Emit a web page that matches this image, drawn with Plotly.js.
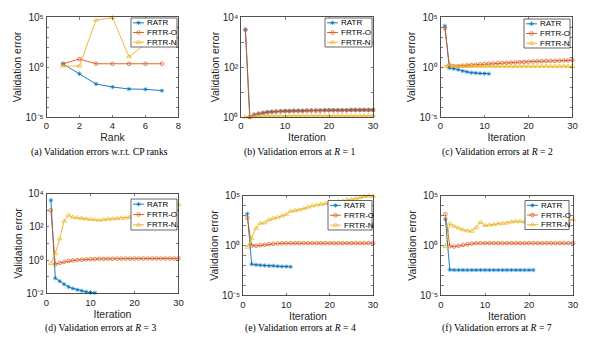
<!DOCTYPE html>
<html>
<head>
<meta charset="utf-8">
<script src="https://cdn.plot.ly/plotly-3.0.1.min.js"></script>
<style>html,body{margin:0;padding:0;background:#fff;}#chart{width:600px;height:353px;}</style>
</head>
<body>
<div id="chart"></div>
<script>
// ---------------- DATA ----------------
const seriesNames = ['RATR', 'FRTR-O', 'FRTR-N'];
const rankA = [1, 2, 3, 4, 5, 6, 7];
const iter30 = [1,2,3,4,5,6,7,8,9,10,11,12,13,14,15,16,17,18,19,20,21,22,23,24,25,26,27,28,29,30];
const iter11 = [1,2,3,4,5,6,7,8,9,10,11];
const iter21 = [1,2,3,4,5,6,7,8,9,10,11,12,13,14,15,16,17,18,19,20,21];

// (a) validation error vs rank
const a_ratr  = [2.0, 0.21, 0.02, 0.01, 0.0063, 0.0059, 0.0043];
const a_frtro = [2.1, 6.3, 2.1, 2.1, 2.1, 2.1, 2.1];
const a_frtrn = [1.25, 1.25, 50000, 85000, 10.7, 200, 400];

// (b) R = 1
const b_ratr  = [3090, 1.0, 1.23, 1.35, 1.45, 1.55, 1.62, 1.66, 1.70, 1.74, 1.74, 1.78, 1.78, 1.78, 1.82, 1.82, 1.82, 1.82, 1.86, 1.86, 1.86, 1.86, 1.86, 1.86, 1.91, 1.91, 1.91, 1.91, 1.91, 1.91];
const b_frtro = [3090, 1.0, 1.23, 1.35, 1.45, 1.55, 1.62, 1.66, 1.70, 1.74, 1.74, 1.78, 1.78, 1.78, 1.82, 1.82, 1.82, 1.82, 1.86, 1.86, 1.86, 1.86, 1.86, 1.86, 1.91, 1.91, 1.91, 1.91, 1.91, 1.91];
const b_frtrn = [1.0, 1.03, 1.08, 1.1, 1.12, 1.12, 1.12, 1.12, 1.12, 1.12, 1.12, 1.12, 1.12, 1.12, 1.12, 1.12, 1.12, 1.12, 1.12, 1.12, 1.12, 1.12, 1.12, 1.12, 1.12, 1.12, 1.12, 1.12, 1.12, 1.12];

// (c) R = 2
const c_ratr  = [12600, 0.79, 0.68, 0.54, 0.40, 0.32, 0.27, 0.25, 0.23, 0.22, 0.21];
const c_frtro = [7940, 1.58, 1.26, 1.26, 1.35, 1.45, 1.58, 1.70, 1.86, 2.0, 2.14, 2.29, 2.45, 2.57, 2.69, 2.82, 2.95, 3.09, 3.24, 3.39, 3.55, 3.72, 3.80, 3.98, 4.07, 4.17, 4.27, 4.37, 4.57, 4.68];
const c_frtrn = [1.08, 1.7, 1.2, 1.2, 1.2, 1.2, 1.2, 1.2, 1.2, 1.2, 1.2, 1.2, 1.2, 1.2, 1.2, 1.2, 1.2, 1.2, 1.2, 1.2, 1.2, 1.2, 1.2, 1.2, 1.2, 1.2, 1.2, 1.2, 1.2, 1.2];

// (d) R = 3
const d_ratr  = [3980, 0.083, 0.055, 0.036, 0.025, 0.020, 0.0166, 0.0145, 0.0126, 0.0115, 0.011];
const d_frtro = [1000, 0.56, 0.69, 0.79, 0.89, 0.95, 1.02, 1.07, 1.12, 1.15, 1.17, 1.2, 1.2, 1.22, 1.22, 1.23, 1.23, 1.24, 1.24, 1.25, 1.25, 1.25, 1.25, 1.26, 1.26, 1.26, 1.26, 1.26, 1.27, 1.27];
const d_frtrn = [0.63, 2.5, 19, 220, 500, 380, 350, 330, 300, 290, 275, 250, 275, 290, 300, 316, 330, 350, 380, 417, 457, 500, 562, 631, 708, 794, 1000, 1260, 1580, 2190];

// (e) R = 4
const e_ratr  = [1480, 0.0135, 0.0117, 0.0107, 0.01, 0.0093, 0.0093, 0.0085, 0.0079, 0.0079, 0.0074];
const e_frtro = [590, 1.0, 0.93, 1.07, 1.17, 1.35, 1.48, 1.58, 1.66, 1.7, 1.7, 1.7, 1.7, 1.7, 1.7, 1.7, 1.7, 1.7, 1.7, 1.7, 1.7, 1.7, 1.7, 1.7, 1.7, 1.7, 1.7, 1.7, 1.7, 1.7];
const e_frtrn = [0.68, 5.4, 54, 170, 186, 370, 540, 680, 930, 1260, 2700, 3160, 3700, 5000, 6800, 9300, 11700, 13500, 15800, 17800, 20000, 25100, 28200, 35500, 39800, 50100, 63100, 79400, 89100, 85100];

// (f) R = 7
const f_ratr  = [430, 0.0037, 0.0035, 0.0035, 0.0035, 0.0035, 0.0035, 0.0035, 0.0035, 0.0035, 0.0035, 0.0035, 0.0035, 0.0035, 0.0035, 0.0035, 0.0035, 0.0035, 0.0035, 0.0035, 0.0035];
const f_frtro = [1350, 0.85, 0.79, 0.93, 1.17, 1.35, 1.58, 1.7, 1.7, 1.7, 1.7, 1.7, 1.7, 1.7, 1.7, 1.7, 1.7, 1.7, 1.7, 1.7, 1.7, 1.7, 1.7, 1.7, 1.7, 1.7, 1.7, 1.7, 1.7, 1.7];
const f_frtrn = [0.79, 148, 85, 54, 37, 30, 27, 63, 214, 100, 117, 126, 148, 158, 186, 234, 269, 269, 234, 186, 200, 224, 251, 282, 316, 316, 355, 355, 380, 398];

const captions = [
  '(a) Validation errors w.r.t. CP ranks',
  '(b) Validation errors at <i>R</i> = 1',
  '(c) Validation errors at <i>R</i> = 2',
  '(d) Validation errors at <i>R</i> = 3',
  '(e) Validation errors at <i>R</i> = 4',
  '(f) Validation errors at <i>R</i> = 7'
];
const xTitles = ['Rank', 'Iteration', 'Iteration', 'Iteration', 'Iteration', 'Iteration'];
const yTitle = 'Validation error';
// decade tick labels (10^k), per exponent
const decadeLabels = {'-5': '10\u207B\u2075', '-2': '10\u207B\u00B2', '0': '10\u2070', '2': '10\u00B2', '4': '10\u2074', '5': '10\u2075'};

const panelData = [
  {x: [rankA, rankA, rankA], y: [a_ratr, a_frtro, a_frtrn]},
  {x: [iter30, iter30, iter30], y: [b_ratr, b_frtro, b_frtrn]},
  {x: [iter11, iter30, iter30], y: [c_ratr, c_frtro, c_frtrn]},
  {x: [iter11, iter30, iter30], y: [d_ratr, d_frtro, d_frtrn]},
  {x: [iter11, iter30, iter30], y: [e_ratr, e_frtro, e_frtrn]},
  {x: [iter21, iter30, iter30], y: [f_ratr, f_frtro, f_frtrn]}
];

// ---------------- LAYOUT / STYLE ----------------
const W = 600, H = 353;
const BLUE = '#0072BD', ORANGE = '#D95319', YELLOW = '#EDB120';
const colors = [BLUE, ORANGE, YELLOW];
const symbols = ['asterisk-open', 'circle-open', 'triangle-up-open'];
const msizes = [3.6, 3.6, 4.4];
const AX = '#262626';
const sans = 'Liberation Sans, Arial, Helvetica, sans-serif';
const serif = 'Liberation Serif, Times New Roman, serif';

// plot boxes in pixels
const boxes = [
  {x0: 46.5, x1: 178.5, y0: 17, y1: 117},
  {x0: 241, x1: 373, y0: 17, y1: 117},
  {x0: 440.5, x1: 572.5, y0: 17, y1: 117},
  {x0: 46.5, x1: 178.5, y0: 193.5, y1: 293.5},
  {x0: 243, x1: 373, y0: 195.5, y1: 295.5},
  {x0: 441, x1: 573, y0: 195.5, y1: 295.5}
];
// legend boxes in pixels [left, top, width, height]
const legBoxes = [
  [131, 18, 46, 29],
  [325, 18, 47, 29],
  [524, 19, 46, 29],
  [131, 199, 46, 31],
  [328, 200.5, 44, 29.5],
  [525, 200.5, 44, 29]
];
const xRanges = [[0, 8], [0, 30], [0, 30], [0, 30], [0, 30], [0, 30]];
const xTicks = [[0, 2, 4, 6, 8], [0, 10, 20, 30], [0, 10, 20, 30], [0, 10, 20, 30], [0, 10, 20, 30], [0, 10, 20, 30]];
const yDecRanges = [[-5, 5], [0, 4], [-5, 5], [-2, 4], [-5, 5], [-5, 5]];
const yLabelled = [[-5, 0, 5], [0, 2, 4], [-5, 0, 5], [-2, 0, 2, 4], [-5, 0, 5], [-5, 0, 5]];
const captionPos = [[99, 152], [299, 152], [497, 152], [100, 328], [300, 328], [497, 328]];

const traces = [];
const layout = {
  width: W, height: H,
  margin: {l: 0, r: 0, t: 0, b: 0},
  paper_bgcolor: '#ffffff',
  plot_bgcolor: 'rgba(0,0,0,0)',
  showlegend: false,
  annotations: [],
  shapes: []
};

boxes.forEach((b, i) => {
  const n = i === 0 ? '' : String(i + 1);
  const xa = 'xaxis' + n, ya = 'yaxis' + n;
  const tickvals = [], ticktext = [], minorvals = [];
  for (let k = yDecRanges[i][0]; k <= yDecRanges[i][1]; k++) {
    if (yLabelled[i].indexOf(k) >= 0) {
      tickvals.push(Math.pow(10, k));
      ticktext.push(decadeLabels[String(k)]);
    } else {
      minorvals.push(Math.pow(10, k));
    }
  }
  layout[xa] = {
    domain: [b.x0 / W, b.x1 / W], anchor: 'y' + n,
    range: xRanges[i], tickvals: xTicks[i], ticktext: xTicks[i].map(String),
    ticks: 'inside', ticklen: 2.5, tickwidth: 0.6, tickcolor: AX,
    showline: true, linecolor: AX, linewidth: 0.8, mirror: 'ticks',
    showgrid: false, zeroline: false,
    tickfont: {family: sans, size: 9.5, color: AX},
    title: {text: xTitles[i], font: {family: sans, size: 10.5, color: AX}, standoff: 1}
  };
  layout[ya] = {
    domain: [1 - b.y1 / H, 1 - b.y0 / H], anchor: 'x' + n,
    type: 'log', range: yDecRanges[i], tickvals: tickvals, ticktext: ticktext,
    ticks: 'inside', ticklen: 2.5, tickwidth: 0.6, tickcolor: AX,
    minor: {tickvals: minorvals, ticks: 'inside', ticklen: 2.5, tickwidth: 0.6, tickcolor: AX, showgrid: false},
    showline: true, linecolor: AX, linewidth: 0.8, mirror: 'ticks',
    showgrid: false, zeroline: false,
    tickfont: {family: sans, size: 10, color: AX},
    title: {text: yTitle, font: {family: sans, size: 10.5, color: AX}, standoff: 1}
  };
  const pd = panelData[i];
  for (let s = 0; s < 3; s++) {
    traces.push({
      type: 'scatter', mode: 'lines+markers',
      name: seriesNames[s],
      x: pd.x[s], y: pd.y[s],
      xaxis: 'x' + n, yaxis: 'y' + n,
      cliponaxis: false,
      line: {color: colors[s], width: 0.9},
      marker: {symbol: symbols[s], size: msizes[s], color: colors[s], line: {color: colors[s], width: 0.7}}
    });
  }
  // caption
  layout.annotations.push({
    text: captions[i], xref: 'paper', yref: 'paper',
    x: captionPos[i][0] / W, y: 1 - captionPos[i][1] / H,
    xanchor: 'center', yanchor: 'middle', showarrow: false,
    font: {family: serif, size: 9.7, color: '#000'}
  });
});

// overlay pixel axis for the in-plot legend boxes (drawn above the data)
layout.xaxis7 = {domain: [0, 1], range: [0, W], visible: false, anchor: 'y7', fixedrange: true};
layout.yaxis7 = {domain: [0, 1], range: [H, 0], visible: false, anchor: 'x7', fixedrange: true};

legBoxes.forEach((lb) => {
  const [lx, ly, lw, lh] = lb;
  traces.push({
    type: 'scatter', mode: 'lines', xaxis: 'x7', yaxis: 'y7', hoverinfo: 'skip',
    x: [lx, lx + lw, lx + lw, lx, lx], y: [ly, ly, ly + lh, ly + lh, ly],
    fill: 'toself', fillcolor: '#ffffff', line: {color: AX, width: 0.7}
  });
  const rowH = lh / 3;
  for (let s = 0; s < 3; s++) {
    const cy = ly + rowH * (s + 0.5);
    traces.push({
      type: 'scatter', mode: 'lines', xaxis: 'x7', yaxis: 'y7', hoverinfo: 'skip',
      x: [lx + 2, lx + 13], y: [cy, cy], line: {color: colors[s], width: 0.9}
    });
    traces.push({
      type: 'scatter', mode: 'markers', xaxis: 'x7', yaxis: 'y7', hoverinfo: 'skip', cliponaxis: false,
      x: [lx + 7.5], y: [cy],
      marker: {symbol: symbols[s], size: msizes[s], color: colors[s], line: {color: colors[s], width: 0.7}}
    });
    layout.annotations.push({
      text: seriesNames[s], xref: 'paper', yref: 'paper',
      x: (lx + 14) / W, y: 1 - cy / H, xanchor: 'left', yanchor: 'middle',
      showarrow: false, font: {family: sans, size: 8, color: '#000'}
    });
  }
});

Plotly.newPlot('chart', traces, layout, {staticPlot: true, displayModeBar: false});
</script>
</body>
</html>
